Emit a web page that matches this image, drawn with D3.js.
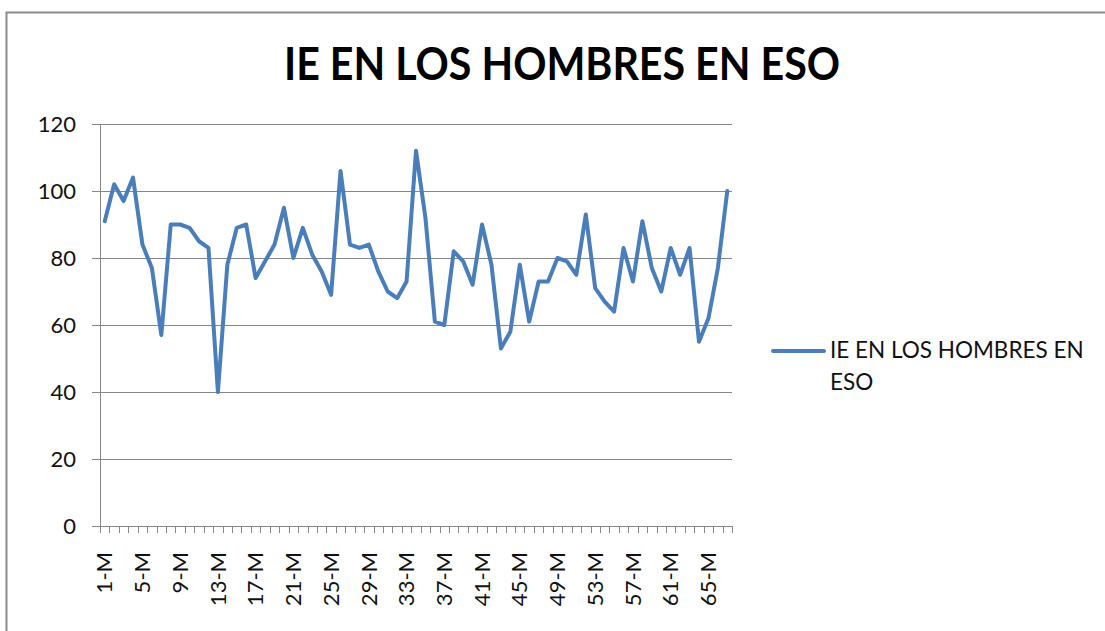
<!DOCTYPE html>
<html lang="es">
<head>
<meta charset="UTF-8">
<title>IE EN LOS HOMBRES EN ESO</title>
<script src="https://d3js.org/d3.v7.min.js"></script>
<style>
    body { margin: 0; background: #fff; }
    svg { display: block; font-family: Lato, "Open Sans", sans-serif; }
</style>
</head>
<body>
<div id="chart"></div>
<script>
// series data
const categories = d3.range(1, 68).map(i => i + "-M");
const values = [
    91, 102, 97, 104, 84, 77, 57, 90, 90, 89,
    85, 83, 40, 78, 89, 90, 74, 79, 84, 95,
    80, 89, 81, 76, 69, 106, 84, 83, 84, 76,
    70, 68, 73, 112, 92, 61, 60, 82, 79, 72,
    90, 78, 53, 58, 78, 61, 73, 73, 80, 79,
    75, 93, 71, 67, 64, 83, 73, 91, 77, 70,
    83, 75, 83, 55, 62, 77, 100
];
const yTicks = [0, 20, 40, 60, 80, 100, 120];
const seriesName = ["IE EN LOS HOMBRES EN", "ESO"];
const titleText = "IE EN LOS HOMBRES EN ESO";

const W = 1105, H = 631;
const plot = { left: 100, right: 732, top: 124, bottom: 526 };
const lineColor = "#4a7ebb";
const gridColor = "#868686";

const svg = d3.select("#chart").append("svg")
    .attr("width", W)
    .attr("height", H);

// chart border (only left and top are in view)
svg.append("rect")
    .attr("x", 6.5).attr("y", 12.5)
    .attr("width", 1200).attr("height", 700)
    .attr("fill", "none")
    .attr("stroke", "#8a8a8a")
    .attr("stroke-width", 2);

svg.append("text")
    .attr("x", 562).attr("y", 80)
    .attr("text-anchor", "middle")
    .attr("font-size", 45)
    .attr("font-weight", "bold")
    .attr("textLength", 556)
    .attr("lengthAdjust", "spacingAndGlyphs")
    .text(titleText);

const x = d3.scaleBand().domain(categories).range([plot.left, plot.right]).padding(0);
const y = d3.scaleLinear().domain([0, 120]).range([plot.bottom, plot.top]);

// gridlines + y ticks
svg.append("g")
    .selectAll("line")
    .data(yTicks)
    .join("line")
    .attr("x1", plot.left - 8).attr("x2", plot.right)
    .attr("y1", d => y(d) + 0.5).attr("y2", d => y(d) + 0.5)
    .attr("stroke", gridColor)
    .attr("stroke-width", 1);

svg.append("g")
    .selectAll("text")
    .data(yTicks)
    .join("text")
    .attr("x", 76)
    .attr("y", d => y(d))
    .attr("dy", "0.35em")
    .attr("text-anchor", "end")
    .attr("font-size", 22)
    .attr("fill", "#111")
    .text(d => d);

// y axis line
svg.append("line")
    .attr("x1", plot.left + 0.5).attr("x2", plot.left + 0.5)
    .attr("y1", plot.top).attr("y2", plot.bottom)
    .attr("stroke", gridColor);

// x tick marks at band edges
const edges = categories.map(c => x(c)).concat([plot.right]);
svg.append("g")
    .selectAll("line")
    .data(edges)
    .join("line")
    .attr("x1", d => Math.round(d) + 0.5).attr("x2", d => Math.round(d) + 0.5)
    .attr("y1", plot.bottom).attr("y2", plot.bottom + 7)
    .attr("stroke", gridColor);

// x labels, every 4th category, rotated
svg.append("g")
    .selectAll("text")
    .data(categories.filter((c, i) => i % 4 === 0))
    .join("text")
    .attr("transform", d => `translate(${x(d) + x.bandwidth() / 2},552) rotate(-90)`)
    .attr("dy", "0.35em")
    .attr("text-anchor", "end")
    .attr("font-size", 22)
    .attr("fill", "#111")
    .text(d => d);

// series line
const line = d3.line()
    .x((d, i) => x(categories[i]) + x.bandwidth() / 2)
    .y(d => y(d));

svg.append("path")
    .datum(values)
    .attr("d", line)
    .attr("fill", "none")
    .attr("stroke", lineColor)
    .attr("stroke-width", 4)
    .attr("stroke-linejoin", "round")
    .attr("stroke-linecap", "round");

// legend
const legend = svg.append("g");
legend.append("line")
    .attr("x1", 773).attr("x2", 824)
    .attr("y1", 351).attr("y2", 351)
    .attr("stroke", lineColor)
    .attr("stroke-width", 4)
    .attr("stroke-linecap", "round");
legend.selectAll("text")
    .data(seriesName)
    .join("text")
    .attr("x", 830)
    .attr("y", (d, i) => 358 + i * 32)
    .attr("font-size", 22.5)
    .attr("fill", "#111")
    .text(d => d);
</script>
</body>
</html>
